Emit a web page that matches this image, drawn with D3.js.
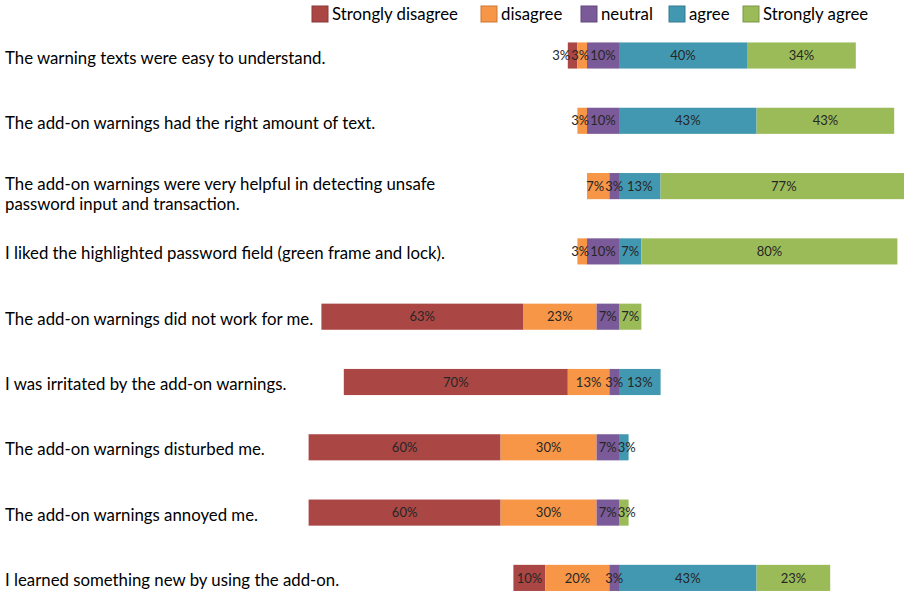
<!DOCTYPE html>
<html>
<head>
<meta charset="utf-8">
<script src="https://cdn.jsdelivr.net/npm/d3@7/dist/d3.min.js"></script>
<style>
  html, body { margin: 0; padding: 0; background: #ffffff; }
  svg { display: block; }
  text { font-family: Lato, "Open Sans", sans-serif; }
</style>
</head>
<body>
<svg id="chart" width="904" height="594"></svg>
<script>
// Survey statements (one bar each)
const categories = [
  "The warning texts were easy to understand.",
  "The add-on warnings had the right amount of text.",
  "The add-on warnings were very helpful in detecting unsafe password input and transaction.",
  "I liked the highlighted password field (green frame and lock).",
  "The add-on warnings did not work for me.",
  "I was irritated by the add-on warnings.",
  "The add-on warnings disturbed me.",
  "The add-on warnings annoyed me.",
  "I learned something new by using the add-on."
];

// Share of answers per Likert level, in percent
const stronglyDisagree = [3, 0, 0, 0, 63, 70, 60, 60, 10];
const disagree         = [3, 3, 7, 3, 23, 13, 30, 30, 20];
const neutral          = [10, 10, 3, 10, 7, 3, 7, 7, 3];
const agree            = [40, 43, 13, 7, 0, 13, 3, 0, 43];
const stronglyAgree    = [34, 43, 77, 80, 7, 0, 0, 3, 23];

const levelNames = ["Strongly disagree", "disagree", "neutral", "agree", "Strongly agree"];
const levelColors = ["#AA4644", "#F79646", "#7A5A98", "#4298B1", "#9BBB59"];
const legendLabels = levelNames;

const series = [stronglyDisagree, disagree, neutral, agree, stronglyAgree];

const svg = d3.select("#chart");

// Diverging layout: disagree side + neutral to the left of zero, agree side to the right
const x = d3.scaleLinear().domain([-100, 100]).range([299, 939]);
const y = d3.scaleBand().domain(categories).range([22.85, 610.55])
  .paddingInner(0.6).paddingOuter(0.3);

const rows = categories.map((c, i) => {
  const vals = series.map(s => s[i]);
  const negTotal = vals[0] + vals[1] + vals[2];
  let start = -negTotal;
  const segs = vals.map((v, k) => {
    const s = { cat: c, level: k, value: v, x0: start, x1: start + v };
    start += v;
    return s;
  });
  return { cat: c, segs };
});

const plot = svg.append("g");

rows.forEach(r => {
  plot.selectAll(null)
    .data(r.segs.filter(s => s.value > 0))
    .enter().append("rect")
    .attr("x", d => x(d.x0))
    .attr("y", y(r.cat))
    .attr("width", d => x(d.x1) - x(d.x0))
    .attr("height", y.bandwidth())
    .attr("fill", d => levelColors[d.level]);
});

// Value labels, nudged apart where neighbouring segments are too narrow
rows.forEach(r => {
  const cy = y(r.cat) + y.bandwidth() / 2;
  const segs = r.segs.filter(s => s.value > 0);
  const labels = segs.map(s => {
    const t = plot.append("text")
      .attr("y", cy)
      .attr("dy", "0.36em")
      .attr("text-anchor", "middle")
      .attr("font-size", 13)
      .attr("fill", "#262626")
      .text(s.value + "%");
    const w = t.node().getComputedTextLength();
    return { t, s, cx: (x(s.x0) + x(s.x1)) / 2, w };
  });
  const gap = 1;
  const neg = labels.filter(l => l.s.level <= 2);
  const pos = labels.filter(l => l.s.level >= 3);
  for (let i = neg.length - 2; i >= 0; i--) {
    const inner = neg[i + 1], outer = neg[i];
    const limit = inner.cx - inner.w / 2 - gap;
    if (outer.cx + outer.w / 2 > limit) outer.cx = limit - outer.w / 2;
  }
  let prev = neg.length ? neg[neg.length - 1] : null;
  pos.forEach(l => {
    if (prev) {
      const limit = prev.cx + prev.w / 2 + gap;
      if (l.cx - l.w / 2 < limit) l.cx = limit + l.w / 2;
    }
    prev = l;
  });
  labels.forEach(l => l.t.attr("x", l.cx));
});

// Statement labels on the left, wrapped when wider than the label column
const labelWidth = 470;
const labelSize = 16.8;
const catG = svg.append("g");
categories.forEach(c => {
  const cy = y(c) + y.bandwidth() / 2;
  const t = catG.append("text").attr("x", 5).attr("font-size", labelSize).attr("fill", "#000");
  const words = c.split(" ");
  let lines = [];
  let line = [];
  const probe = catG.append("text").attr("font-size", labelSize);
  words.forEach(w => {
    const trial = line.concat(w).join(" ");
    probe.text(trial);
    if (probe.node().getComputedTextLength() > labelWidth && line.length) {
      lines.push(line.join(" "));
      line = [w];
    } else {
      line.push(w);
    }
  });
  lines.push(line.join(" "));
  probe.remove();
  if (lines.length === 1) {
    t.attr("y", cy + 8).text(lines[0]);
  } else {
    lines.forEach((ln, i) => {
      t.append("tspan").attr("x", 5).attr("y", cy + 4 + i * 19.5).text(ln);
    });
  }
});

// Legend along the top
const legendX = [312, 481, 581, 669, 743];
const legend = svg.append("g");
legendLabels.forEach((name, i) => {
  const g = legend.append("g").attr("transform", `translate(${legendX[i]},6)`);
  g.append("rect").attr("width", 16).attr("height", 16)
    .attr("fill", levelColors[i])
    .attr("stroke", d3.color(levelColors[i]).darker(0.6))
    .attr("stroke-width", 1);
  g.append("text").attr("x", 20).attr("y", 14).attr("font-size", 16.8)
    .attr("fill", "#000").text(name);
});
</script>
</body>
</html>
